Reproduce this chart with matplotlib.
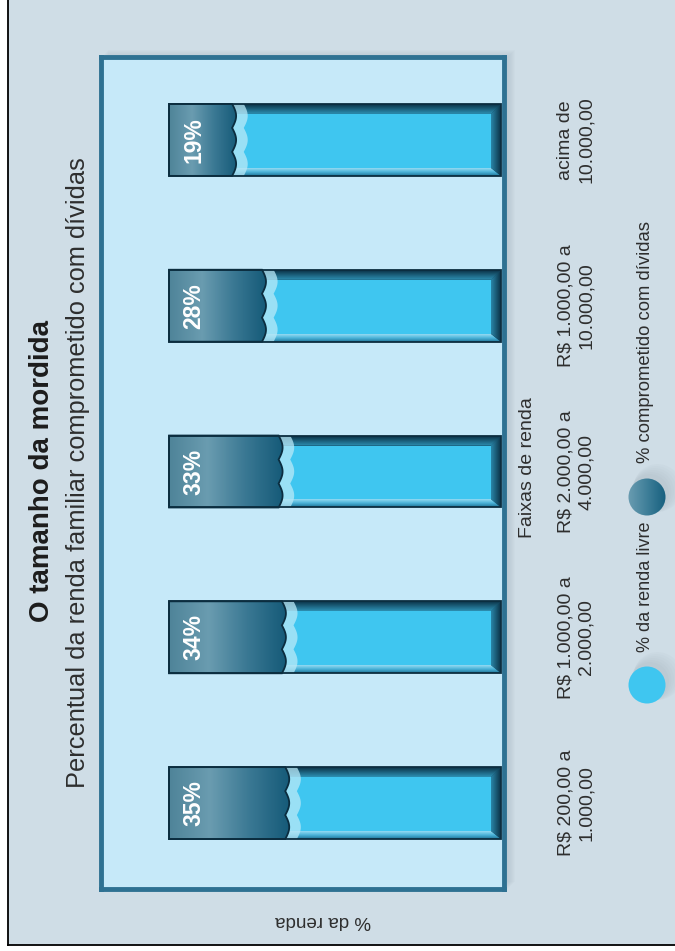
import numpy as np
import matplotlib
import matplotlib.pyplot as plt
from matplotlib.patches import Rectangle, Circle, Polygon
from matplotlib.colors import LinearSegmentedColormap
from matplotlib.transforms import blended_transform_factory

matplotlib.rcParams['font.family'] = ['Liberation Sans', 'DejaVu Sans']

# Data (whole chart is turned 90 degrees)
faixas = ['R$ 200,00 a\n1.000,00', 'R$ 1.000,00 a\n2.000,00', 'R$ 2.000,00 a\n4.000,00',
          'R$ 1.000,00 a\n10.000,00', 'acima de\n10.000,00']
comprometido = [35, 34, 33, 28, 19]
livre = [100 - v for v in comprometido]

title = 'O tamanho da mordida'
subtitle = 'Percentual da renda familiar comprometido com dívidas'

bg_col = '#cfdde6'
panel_col = '#c6e9f9'
cyan = '#3fc6f0'
text_col = '#2e2e2e'

fig = plt.figure(figsize=(6.75, 9.51), dpi=100)

# background layer in pixel units
bg = fig.add_axes([0, 0, 1, 1])
bg.set_xlim(0, 675)
bg.set_ylim(951, 0)
bg.axis('off')
bg.add_patch(Rectangle((8, 0), 667, 945, fc=bg_col, ec='none'))
bg.plot([8, 8], [0, 945], color='k', lw=1.3)
bg.plot([8, 675], [945, 945], color='k', lw=1.3)

# soft shadow behind the panel
for k in range(8):
    bg.add_patch(Rectangle((101 + k, 57 - k), 403 + 4, 832, fc='#8a9ba5', ec='none', alpha=0.035))

bg.text(42, 471, title, rotation=90, ha='center', va='center', fontsize=20,
        fontweight='bold', color='#1c1c1c')
bg.text(78, 473, subtitle, rotation=90, ha='center', va='center', fontsize=18.3,
        color=text_col)
bg.text(528, 468, 'Faixas de renda', rotation=90, ha='center', va='center', fontsize=14,
        color=text_col)
bg.text(323, 920, '% da renda', rotation=180, ha='center', va='center', fontsize=13.5,
        color=text_col)

# legend
for cy in (685, 497):
    for k in range(6):
        bg.add_patch(Circle((650 + k * 1.5, cy - 4 - k), 19 + k, fc='#7f8f99', ec='none', alpha=0.04))
bg.add_patch(Circle((647, 685), 18.5, fc=cyan, ec='none'))
dark_cmap = LinearSegmentedColormap.from_list('dk', ['#6a9cb1', '#3f7f99', '#17607f'])
grad = np.linspace(0, 1, 64).reshape(1, -1)
vgrad = np.linspace(0, 1, 32).reshape(-1, 1)
im = bg.imshow(grad, cmap=dark_cmap, extent=(628, 666, 516, 478), aspect='auto', zorder=3)
circ = Circle((647, 497), 18.5, fc='none', ec='none', transform=bg.transData)
bg.add_patch(circ)
im.set_clip_path(circ)
bg.text(645, 652, '% da renda livre', rotation=90, ha='center', va='bottom', fontsize=13,
        color=text_col)
bg.text(645, 463, '% comprometido com dívidas', rotation=90, ha='center', va='bottom',
        fontsize=13.3, color=text_col)
bg.set_xlim(0, 675)
bg.set_ylim(951, 0)

# main panel
ax = fig.add_axes([101 / 675, (951 - 889) / 951, 403 / 675, 832 / 951])
ax.set_facecolor(panel_col)
for s in ax.spines.values():
    s.set_color('#2e7192')
    s.set_linewidth(3.5)
ax.set_xticks([])
ax.set_yticks([])

h = 0.434
px = 1 / 3.32     # one pixel along the value axis
py = 1 / 166.0    # one pixel along the category axis
bar_grad = LinearSegmentedColormap.from_list('bar', ['#4f8499', '#6a9cb0', '#3a7893', '#155a78'])
top_grad = LinearSegmentedColormap.from_list('top', ['#2d8fb2', '#0b3247'])
bot_grad = LinearSegmentedColormap.from_list('bot', ['#1f7598', '#4ab3d8', '#93daf2'])
end_grad = LinearSegmentedColormap.from_list('end', ['#2a86a8', '#0b3247'])
t = np.linspace(0, 1, 61)
scallop = np.abs(np.sin(3 * np.pi * t))


def shaded(poly, arr, cmap, extent, z):
    ax.add_patch(poly)
    img = ax.imshow(arr, cmap=cmap, extent=extent, aspect='auto', zorder=z,
                    interpolation='bilinear')
    img.set_clip_path(poly)


for i, (d, f) in enumerate(zip(comprometido, livre)):
    y0 = i - h / 2
    y1 = y0 + h
    bx = 10 * px
    tb = 10 * py
    bb = 8 * py
    # light part: cyan core with bevelled rim
    ax.add_patch(Rectangle((0, y0), 100, h, fc='#0f4560', ec='none', zorder=2))
    ax.add_patch(Rectangle((bx, y0 + bb), f - bx, h - bb - tb, fc=cyan, ec='none', zorder=3))
    top = Polygon([(f, y1), (0, y1), (bx, y1 - tb), (f, y1 - tb)], closed=True,
                  fc='none', ec='none')
    shaded(top, vgrad[::-1], top_grad, (f, 0, y1 - tb, y1), 3)
    bot = Polygon([(0, y0), (f, y0), (f, y0 + bb), (bx, y0 + bb)], closed=True,
                  fc='none', ec='none')
    shaded(bot, vgrad[::-1], bot_grad, (f, 0, y0, y0 + bb), 3)
    end = Polygon([(0, y1), (0, y0), (bx, y0 + bb), (bx, y1 - tb)], closed=True,
                  fc='none', ec='none')
    shaded(end, grad, end_grad, (bx, 0, y0, y1), 3)
    # foam just past the edge
    ey = y0 + t * h
    ex = f - 1.2 * scallop
    foam = np.column_stack([np.r_[ex, (ex - 3.5)[::-1]], np.r_[ey, ey[::-1]]])
    ax.add_patch(Polygon(foam, closed=True, fc='#b9e9f8', ec='none', alpha=0.75, zorder=4))
    # dark part with scalloped edge and gradient
    pts = np.column_stack([np.r_[100, ex, 100], np.r_[y0, ey, y1]])
    poly = Polygon(pts, closed=True, fc='none', ec='#0b2d3f', lw=1.3, zorder=6)
    shaded(poly, grad, bar_grad, (100, f - 1.5, y0, y1), 5)
    ax.add_patch(Rectangle((0, y0), 100, h, fc='none', ec='#0b2d3f', lw=1.3, zorder=6))
    ax.text(92.5, i, f'{d}%', rotation=90, ha='center', va='center', fontsize=16.5,
            fontweight='bold', color='white', zorder=7)

ax.set_xlim(120.5, -0.9)
ax.set_ylim(-0.518, 4.5)

trans = blended_transform_factory(fig.transFigure, ax.transData)
for i, lab in enumerate(faixas):
    ax.text(576 / 675, i, lab, transform=trans, rotation=90, ha='center', va='center',
            multialignment='center', fontsize=14, color=text_col, linespacing=1.25)

fig.savefig('out.png', dpi=100)
